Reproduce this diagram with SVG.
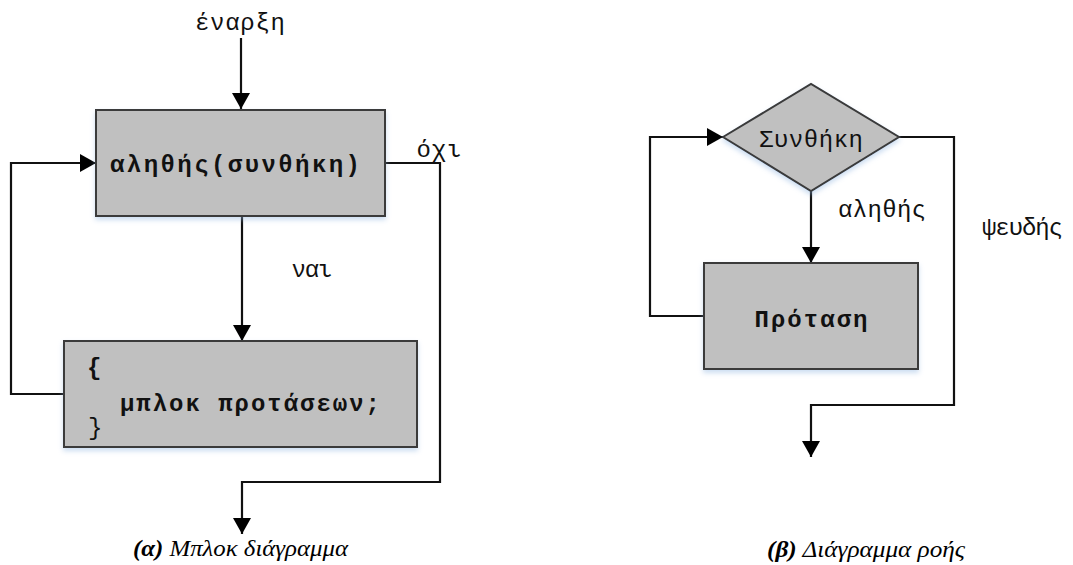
<svg xmlns="http://www.w3.org/2000/svg" width="1073" height="565" viewBox="0 0 1073 565">
<style>
.box{fill:#c0c0c0;stroke:#3a3a3a;stroke-width:2}
.con{fill:none;stroke:#111;stroke-width:2.2}
.m{font-family:"Liberation Mono","DejaVu Sans Mono",monospace;font-size:24px;fill:#111}
.b{font-weight:bold}
.cap{font-family:"Liberation Serif","Times New Roman",serif;font-size:24px;font-style:italic;fill:#000}
</style>
<defs>
<marker id="ah" markerUnits="userSpaceOnUse" markerWidth="18" markerHeight="18" refX="16" refY="9" orient="auto">
<path d="M0,0 L16,9 L0,18 z" fill="#000"/>
</marker>
<filter id="sh" x="-10%" y="-10%" width="120%" height="130%">
<feGaussianBlur in="SourceAlpha" stdDeviation="2.5"/>
<feOffset dy="3" result="b"/>
<feFlood flood-color="#8fb4e0" flood-opacity="0.45"/>
<feComposite in2="b" operator="in"/>
<feMerge><feMergeNode/><feMergeNode in="SourceGraphic"/></feMerge>
</filter>
</defs>
<rect width="1073" height="565" fill="#fff"/>

<g id="connectors">
<path class="con" d="M241,38 V109" marker-end="url(#ah)"/>
<path class="con" d="M242,216 V341" marker-end="url(#ah)"/>
<path class="con" d="M385,163 H440 V482 H242 V534" marker-end="url(#ah)"/>
<path class="con" d="M64,394 H11 V163 H96" marker-end="url(#ah)"/>
<path class="con" d="M704,316 H650 V137 H723" marker-end="url(#ah)"/>
<path class="con" d="M811,191 V263" marker-end="url(#ah)"/>
<path class="con" d="M899,137 H954 V405 H811 V457" marker-end="url(#ah)"/>
</g>

<g id="label-start"><text class="m" x="240" y="30" text-anchor="middle" textLength="90" lengthAdjust="spacing">έναρξη</text></g>

<g id="node-condition-a">
<rect class="box" x="96" y="110" width="289" height="106" filter="url(#sh)"/>
<text class="m b" x="235" y="172" text-anchor="middle" textLength="250" lengthAdjust="spacing">αληθής(συνθήκη)</text>
</g>

<g id="label-no"><text class="m" x="439" y="157" text-anchor="middle" textLength="45" lengthAdjust="spacing">όχι</text></g>
<g id="label-yes"><text class="m" x="312" y="277" text-anchor="middle" textLength="41" lengthAdjust="spacing">ναι</text></g>

<g id="node-block">
<rect class="box" x="64" y="341" width="353" height="106" filter="url(#sh)"/>
<text class="m b" x="87" y="375">{</text>
<text class="m b" x="120" y="411" textLength="260" lengthAdjust="spacing">μπλοκ προτάσεων;</text>
<text class="m" x="88" y="435">}</text>
</g>

<g id="caption-a"><text class="cap" x="133" y="556" textLength="215" lengthAdjust="spacingAndGlyphs"><tspan font-weight="bold">(α)</tspan> Μπλοκ διάγραμμα</text></g>

<g id="node-condition-b">
<polygon class="box" points="723,137 811,84 899,137 811,191" filter="url(#sh)"/>
<text class="m" x="811" y="147" text-anchor="middle" textLength="104" lengthAdjust="spacing">Συνθήκη</text>
</g>

<g id="label-true"><text class="m" x="838" y="217" textLength="88" lengthAdjust="spacing">αληθής</text></g>
<g id="label-false"><text class="m" x="982" y="235" textLength="81" lengthAdjust="spacing">ψευδής</text></g>

<g id="node-statement">
<rect class="box" x="704" y="263" width="214" height="106" filter="url(#sh)"/>
<text class="m b" x="811" y="327" text-anchor="middle" textLength="113" lengthAdjust="spacing">Πρόταση</text>
</g>

<g id="caption-b"><text class="cap" x="767" y="557" textLength="198" lengthAdjust="spacingAndGlyphs"><tspan font-weight="bold">(β)</tspan> Διάγραμμα ροής</text></g>
</svg>
